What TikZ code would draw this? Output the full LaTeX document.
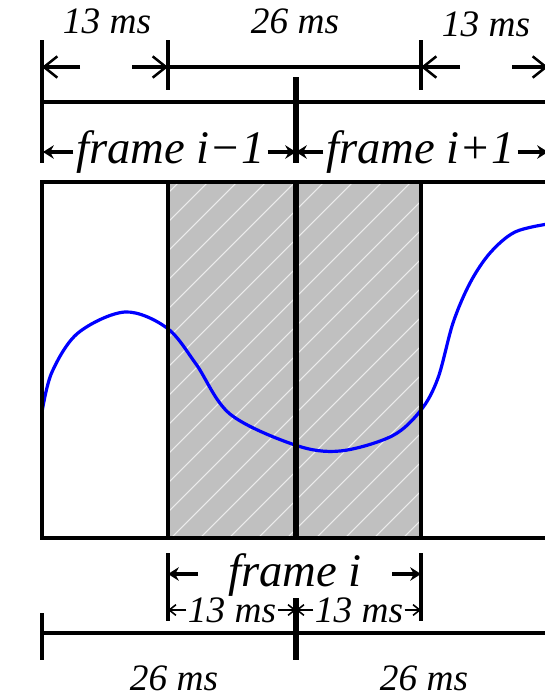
\documentclass[tikz,border=0pt]{standalone}
\usepackage{fontspec}
\newfontfamily\labelfont{Liberation Serif}
\usetikzlibrary{arrows.meta}
\definecolor{wavecolor}{RGB}{0,0,255}
\definecolor{shadefill}{RGB}{192,192,192}
\definecolor{hatchline}{RGB}{236,236,236}

\begin{document}
\begin{tikzpicture}[x=0.75pt, y=-0.75pt,
    rule/.style={line width=2.4pt},
    midrule/.style={line width=3.8pt},
    bigarrow/.style={line width=3.4pt, -{Straight Barb[length=10pt,width=16pt,line width=1.9pt]}},
    framearrow/.style={line width=2.8pt, -{Stealth[length=8pt,width=10pt,inset=2.5pt]}},
    smallarrow/.style={line width=1.4pt, -{Straight Barb[length=5pt,width=8pt,line width=1.2pt]}},
    mstext/.style={font=\fontsize{28}{28}\selectfont\labelfont\itshape, inner sep=0pt},
    frametext/.style={font=\fontsize{35}{35}\selectfont\labelfont\itshape, inner sep=0pt},
    hatch/.style={draw=hatchline, line width=0.8pt},
    wave/.style={draw=wavecolor, line width=2.4pt}]
  \useasboundingbox (0,0) rectangle (545,697);
  \clip (0,0) rectangle (545,697);

  % top dimensions
  \node[mstext] (msA) at (107,21) {13 ms};
  \node[mstext] (msB) at (295,21) {26 ms};
  \node[mstext] (msC) at (486,24) {13 ms};
  \draw[rule] (42,40) -- (42,163);
  \draw[rule] (168,40) -- (168,90);
  \draw[rule] (421,40) -- (421,90);
  \draw[midrule] (296,77) -- (296,163);
  \coordinate (a0) at (42,67);  \coordinate (a0t) at (80,67);
  \coordinate (a1) at (168,67); \coordinate (a1t) at (132,67);
  \coordinate (a2) at (421,67); \coordinate (a2t) at (460,67);
  \coordinate (a3) at (548,67); \coordinate (a3t) at (512,67);
  \draw[bigarrow] (a0t) -- (a0);
  \draw[bigarrow] (a1t) -- (a1);
  \draw[rule] (a1) -- (a2);
  \draw[bigarrow] (a2t) -- (a2);
  \draw[bigarrow] (a3t) -- (a3);
  \draw[rule] (42,102) -- (548,102);

  % neighbour frames
  \coordinate (rowL) at (43,152);
  \coordinate (rowM) at (296,152);
  \coordinate (rowR) at (548,152);
  \node[frametext, anchor=west] (fprev) at (76,152) {frame i−1};
  \node[frametext, anchor=west] (fnext) at (326,152) {frame i+1};
  \draw[framearrow] ([xshift=-2pt]fprev.west) -- (rowL);
  \draw[framearrow] ([xshift=2pt]fprev.east) -- (rowM);
  \draw[framearrow] ([xshift=-2pt]fnext.west) -- (rowM);
  \draw[framearrow] ([xshift=2pt]fnext.east) -- (rowR);

  % signal window
  \fill[shadefill] (168,182) rectangle (421,538);
  \begin{scope}
    \clip (168,182) rectangle (421,538);
    \foreach \h in {-380,-351,...,440}
      \draw[hatch] (\h,538) -- (\h+356,182);
  \end{scope}
  \draw[wave] plot[smooth, tension=0.55] coordinates {
    (42,412) (52,372) (78,333) (125,312) (167,328) (196,364)
    (230,414) (295,445) (340,451) (392,436) (421,410) (438,378)
    (453,323) (470,283) (490,253) (515,232) (548,224)};
  \draw[rule] (42,182) rectangle (548,538);
  \draw[rule] (168,182) -- (168,538);
  \draw[rule] (421,182) -- (421,538);
  \draw[midrule] (296,182) -- (296,538);

  % current frame
  \draw[rule] (168,553) -- (168,621);
  \draw[rule] (421,553) -- (421,621);
  \node[frametext] (fcur) at (295,575) {frame i};
  \coordinate (cL) at (168,574); \coordinate (cLt) at (198,574);
  \coordinate (cR) at (421,574); \coordinate (cRt) at (392,574);
  \draw[framearrow] (cLt) -- (cL);
  \draw[framearrow] (cRt) -- (cR);
  \node[mstext] (msD) at (232,610) {13 ms};
  \node[mstext] (msE) at (359,610) {13 ms};
  \coordinate (sL) at (168,610);
  \coordinate (sM) at (296,610);
  \coordinate (sR) at (421,610);
  \draw[smallarrow] ([xshift=-1pt]msD.west) -- (sL);
  \draw[smallarrow] ([xshift=1pt]msD.east) -- (sM);
  \draw[smallarrow] ([xshift=-1pt]msE.west) -- (sM);
  \draw[smallarrow] ([xshift=1pt]msE.east) -- (sR);

  % bottom dimensions
  \draw[rule] (42,633) -- (548,633);
  \draw[rule] (42,613) -- (42,660);
  \draw[midrule] (296,598) -- (296,660);
  \node[mstext] (msF) at (174,678) {26 ms};
  \node[mstext] (msG) at (424,678) {26 ms};
\end{tikzpicture}
\end{document}
